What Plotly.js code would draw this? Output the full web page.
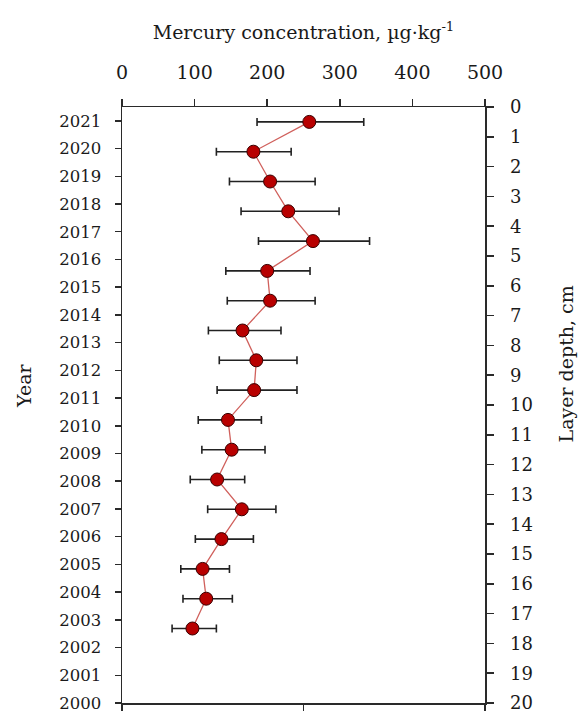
<!DOCTYPE html>
<html>
<head>
<meta charset="utf-8">
<script src="https://cdn.plot.ly/plotly-3.0.1.min.js"></script>
<style>html,body{margin:0;padding:0;background:#fff;}#chart{width:579px;height:713px;}</style>
</head>
<body>
<div id="chart"></div>
<script>
// Layer mid-depths (cm) and their years
var years = [2021, 2020, 2019, 2018, 2017, 2016, 2015, 2014, 2013, 2012, 2011, 2010, 2009, 2008, 2007, 2006, 2005, 2004];
var depthMid = [0.5, 1.5, 2.5, 3.5, 4.5, 5.5, 6.5, 7.5, 8.5, 9.5, 10.5, 11.5, 12.5, 13.5, 14.5, 15.5, 16.5, 17.5];
// Mercury concentration, µg·kg-1
var mercury = [258, 181, 204, 229, 263, 200, 204, 166, 185, 182, 146, 151, 131, 165, 137, 111, 116, 97];
var errPlus = [75, 52, 62, 70, 78, 59, 62, 53, 56, 59, 46, 46, 38, 47, 44, 37, 36, 33];
var errMinus = [72, 51, 56, 65, 75, 57, 59, 47, 51, 51, 41, 41, 37, 47, 36, 30, 32, 28];
// Axis tick labels
var yearTicks = [2000, 2001, 2002, 2003, 2004, 2005, 2006, 2007, 2008, 2009, 2010, 2011, 2012, 2013, 2014, 2015, 2016, 2017, 2018, 2019, 2020, 2021];
var depthTicks = [0, 1, 2, 3, 4, 5, 6, 7, 8, 9, 10, 11, 12, 13, 14, 15, 16, 17, 18, 19, 20];
var concTicks = [0, 100, 200, 300, 400, 500];

var FONT = 'DejaVu Serif, Liberation Serif, serif';
var AX = '#2a2a2a';

var trace = {
  type: 'scatter',
  mode: 'lines+markers',
  x: mercury,
  y: depthMid,
  text: years.map(String),
  xaxis: 'x',
  yaxis: 'y',
  line: {color: '#d0605c', width: 1.3},
  marker: {size: 13, color: '#b80000', line: {color: '#3a0000', width: 1}},
  error_x: {
    type: 'data', symmetric: false,
    array: errPlus, arrayminus: errMinus,
    color: '#222222', thickness: 1.6, width: 4
  },
  showlegend: false,
  hoverinfo: 'x+text'
};

// invisible trace to activate the bottom axis and the year axis
var dummy = {
  type: 'scatter', mode: 'markers', x: [null], y: [null],
  xaxis: 'x2', yaxis: 'y2', showlegend: false, hoverinfo: 'skip'
};

var layout = {
  width: 579, height: 713,
  margin: {l: 122, r: 94, t: 107, b: 10},
  paper_bgcolor: '#ffffff',
  plot_bgcolor: '#ffffff',
  font: {family: FONT, color: '#1a1a1a'},
  title: {
    text: 'Mercury concentration, µg·kg<sup>-1</sup>',
    font: {family: FONT, size: 19, color: '#1a1a1a'},
    xref: 'paper', x: 0.5, xanchor: 'center',
    yref: 'container', y: 0.955, yanchor: 'middle'
  },
  xaxis: {
    side: 'top', range: [0, 500], tickvals: concTicks, ticktext: concTicks.map(String),
    ticks: 'outside', ticklen: 7, tickwidth: 1.5, tickcolor: AX,
    showline: true, linecolor: AX, linewidth: 1.5,
    showgrid: false, zeroline: false,
    tickfont: {family: FONT, size: 19, color: '#1a1a1a'},
    ticklabelstandoff: 12, ticklabeloverflow: 'allow',
    anchor: 'y'
  },
  xaxis2: {
    overlaying: 'x', side: 'bottom', range: [0, 500], tickvals: [0, 250, 500],
    ticks: 'outside', ticklen: 6, tickwidth: 1.5, tickcolor: AX,
    showticklabels: false,
    showline: true, linecolor: AX, linewidth: 1.5,
    showgrid: false, zeroline: false,
    anchor: 'y'
  },
  yaxis: {
    side: 'right', range: [20, 0], tickvals: depthTicks, ticktext: depthTicks.map(String),
    ticks: 'outside', ticklen: 7, tickwidth: 1.5, tickcolor: AX,
    showline: true, linecolor: AX, linewidth: 1.5,
    showgrid: false, zeroline: false,
    tickfont: {family: FONT, size: 18, color: '#1a1a1a'},
    ticklabelstandoff: 13, ticklabeloverflow: 'allow',
    anchor: 'x'
  },
  yaxis2: {
    overlaying: 'y', side: 'left', range: [2000, 2021.5], tickvals: yearTicks, ticktext: yearTicks.map(String),
    ticks: 'outside', ticklen: 6, tickwidth: 1.5, tickcolor: AX,
    showline: true, linecolor: AX, linewidth: 1.5,
    showgrid: false, zeroline: false,
    tickfont: {family: FONT, size: 16.5, color: '#1a1a1a'},
    ticklabelstandoff: 10, ticklabeloverflow: 'allow',
    anchor: 'x'
  },
  annotations: [
    {text: 'Year', xref: 'paper', yref: 'paper', x: -0.27, y: 0.532,
     xanchor: 'center', yanchor: 'middle', textangle: -90, showarrow: false,
     font: {family: FONT, size: 19, color: '#1a1a1a'}},
    {text: 'Layer depth, cm', xref: 'paper', yref: 'paper', x: 1.222, y: 0.569,
     xanchor: 'center', yanchor: 'middle', textangle: -90, showarrow: false,
     font: {family: FONT, size: 19, color: '#1a1a1a'}}
  ]
};

Plotly.newPlot('chart', [trace, dummy], layout, {displayModeBar: false, staticPlot: true});
</script>
</body>
</html>
